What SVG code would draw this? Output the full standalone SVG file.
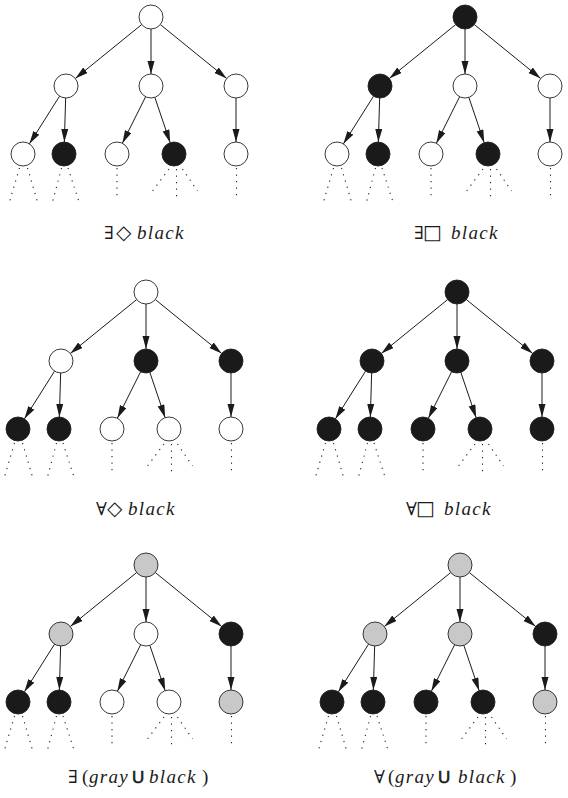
<svg xmlns="http://www.w3.org/2000/svg" width="568" height="798" viewBox="0 0 568 798">
<defs>
<style>
circle{stroke:#222;stroke-width:0.9;}
.w{fill:#fff;}
.k{fill:#1a1a1a;}
.g{fill:#c8c8c8;}
.e{fill:none;stroke:#1a1a1a;stroke-width:1;marker-end:url(#arr);}
.d{fill:none;stroke:#222;stroke-width:1.1;stroke-dasharray:1.2 5.3;}
.lab{font-family:"Liberation Serif","DejaVu Serif",serif;font-size:19px;fill:#1a1a1a;}
.q{font-family:"DejaVu Serif","DejaVu Sans",serif;font-size:18px;}
.dm{font-family:"DejaVu Sans",sans-serif;font-size:20px;}
.bx{font-family:"DejaVu Sans",sans-serif;font-size:20px;}
.it{font-style:italic;letter-spacing:1.3px;}
.u{font-family:"Liberation Sans",Arial,sans-serif;font-size:17px;stroke:#1a1a1a;stroke-width:0.6;}
</style>
<marker id="arr" markerUnits="userSpaceOnUse" markerWidth="14" markerHeight="8" refX="13" refY="3.5" orient="auto">
<path d="M0,0 L13,3.5 L0,7 z" fill="#1a1a1a"/>
</marker>
</defs>
<rect width="568" height="798" fill="#fff"/>

<!-- Panel 1 -->
<g id="panel1" transform="translate(0,0)">
<g id="p1-connectors">
<path class="e" d="M141.68,24.56 L75.32,78.44"/>
<path class="e" d="M151,29 L151,74"/>
<path class="e" d="M160.32,24.56 L226.68,78.44"/>
<path class="e" d="M59.59,96.14 L29.41,143.86"/>
<path class="e" d="M65.65,98 L64.35,142"/>
<path class="e" d="M145.63,96.73 L122.37,143.27"/>
<path class="e" d="M154.85,97.37 L170.15,142.63"/>
<path class="e" d="M236,98 L236,142"/>
<path class="d" d="M19.5,168 L9.5,202 M27.5,168 L37.5,202 M61.5,168 L52.5,202 M68,168 L79,202 M117,168 L117,197 M169,169 L152.5,191 M176.5,169 L176.5,197 M182.5,169 L197.5,191 M236.5,168 L236.5,197"/>
</g>
<g id="p1-root"><circle class="w" cx="151" cy="17" r="12"/></g>
<g id="p1-a"><circle class="w" cx="66" cy="86" r="12"/></g>
<g id="p1-b"><circle class="w" cx="151" cy="86" r="12"/></g>
<g id="p1-c"><circle class="w" cx="236" cy="86" r="12"/></g>
<g id="p1-l1"><circle class="w" cx="23" cy="154" r="12"/></g>
<g id="p1-l2"><circle class="k" cx="64" cy="154" r="12"/></g>
<g id="p1-l3"><circle class="w" cx="117" cy="154" r="12"/></g>
<g id="p1-l4"><circle class="k" cx="174" cy="154" r="12"/></g>
<g id="p1-l5"><circle class="w" cx="236" cy="154" r="12"/></g>
</g>

<!-- Panel 2 -->
<g id="panel2" transform="translate(314,0)">
<g id="p2-connectors">
<path class="e" d="M141.68,24.56 L75.32,78.44"/>
<path class="e" d="M151,29 L151,74"/>
<path class="e" d="M160.32,24.56 L226.68,78.44"/>
<path class="e" d="M59.59,96.14 L29.41,143.86"/>
<path class="e" d="M65.65,98 L64.35,142"/>
<path class="e" d="M145.63,96.73 L122.37,143.27"/>
<path class="e" d="M154.85,97.37 L170.15,142.63"/>
<path class="e" d="M236,98 L236,142"/>
<path class="d" d="M19.5,168 L9.5,202 M27.5,168 L37.5,202 M61.5,168 L52.5,202 M68,168 L79,202 M117,168 L117,197 M169,169 L152.5,191 M176.5,169 L176.5,197 M182.5,169 L197.5,191 M236.5,168 L236.5,197"/>
</g>
<g id="p2-root"><circle class="k" cx="151" cy="17" r="12"/></g>
<g id="p2-a"><circle class="k" cx="66" cy="86" r="12"/></g>
<g id="p2-b"><circle class="w" cx="151" cy="86" r="12"/></g>
<g id="p2-c"><circle class="w" cx="236" cy="86" r="12"/></g>
<g id="p2-l1"><circle class="w" cx="23" cy="154" r="12"/></g>
<g id="p2-l2"><circle class="k" cx="64" cy="154" r="12"/></g>
<g id="p2-l3"><circle class="w" cx="117" cy="154" r="12"/></g>
<g id="p2-l4"><circle class="k" cx="174" cy="154" r="12"/></g>
<g id="p2-l5"><circle class="w" cx="236" cy="154" r="12"/></g>
</g>

<!-- Panel 3 -->
<g id="panel3" transform="translate(-5,275)">
<g id="p3-connectors">
<path class="e" d="M141.68,24.56 L75.32,78.44"/>
<path class="e" d="M151,29 L151,74"/>
<path class="e" d="M160.32,24.56 L226.68,78.44"/>
<path class="e" d="M59.59,96.14 L29.41,143.86"/>
<path class="e" d="M65.65,98 L64.35,142"/>
<path class="e" d="M145.63,96.73 L122.37,143.27"/>
<path class="e" d="M154.85,97.37 L170.15,142.63"/>
<path class="e" d="M236,98 L236,142"/>
<path class="d" d="M19.5,168 L9.5,202 M27.5,168 L37.5,202 M61.5,168 L52.5,202 M68,168 L79,202 M117,168 L117,197 M169,169 L152.5,191 M176.5,169 L176.5,197 M182.5,169 L197.5,191 M236.5,168 L236.5,197"/>
</g>
<g id="p3-root"><circle class="w" cx="151" cy="17" r="12"/></g>
<g id="p3-a"><circle class="w" cx="66" cy="86" r="12"/></g>
<g id="p3-b"><circle class="k" cx="151" cy="86" r="12"/></g>
<g id="p3-c"><circle class="k" cx="236" cy="86" r="12"/></g>
<g id="p3-l1"><circle class="k" cx="23" cy="154" r="12"/></g>
<g id="p3-l2"><circle class="k" cx="64" cy="154" r="12"/></g>
<g id="p3-l3"><circle class="w" cx="117" cy="154" r="12"/></g>
<g id="p3-l4"><circle class="w" cx="174" cy="154" r="12"/></g>
<g id="p3-l5"><circle class="w" cx="236" cy="154" r="12"/></g>
</g>

<!-- Panel 4 -->
<g id="panel4" transform="translate(306,275)">
<g id="p4-connectors">
<path class="e" d="M141.68,24.56 L75.32,78.44"/>
<path class="e" d="M151,29 L151,74"/>
<path class="e" d="M160.32,24.56 L226.68,78.44"/>
<path class="e" d="M59.59,96.14 L29.41,143.86"/>
<path class="e" d="M65.65,98 L64.35,142"/>
<path class="e" d="M145.63,96.73 L122.37,143.27"/>
<path class="e" d="M154.85,97.37 L170.15,142.63"/>
<path class="e" d="M236,98 L236,142"/>
<path class="d" d="M19.5,168 L9.5,202 M27.5,168 L37.5,202 M61.5,168 L52.5,202 M68,168 L79,202 M117,168 L117,197 M169,169 L152.5,191 M176.5,169 L176.5,197 M182.5,169 L197.5,191 M236.5,168 L236.5,197"/>
</g>
<g id="p4-root"><circle class="k" cx="151" cy="17" r="12"/></g>
<g id="p4-a"><circle class="k" cx="66" cy="86" r="12"/></g>
<g id="p4-b"><circle class="k" cx="151" cy="86" r="12"/></g>
<g id="p4-c"><circle class="k" cx="236" cy="86" r="12"/></g>
<g id="p4-l1"><circle class="k" cx="23" cy="154" r="12"/></g>
<g id="p4-l2"><circle class="k" cx="64" cy="154" r="12"/></g>
<g id="p4-l3"><circle class="k" cx="117" cy="154" r="12"/></g>
<g id="p4-l4"><circle class="k" cx="174" cy="154" r="12"/></g>
<g id="p4-l5"><circle class="k" cx="236" cy="154" r="12"/></g>
</g>

<!-- Panel 5 -->
<g id="panel5" transform="translate(-5,548)">
<g id="p5-connectors">
<path class="e" d="M141.68,24.56 L75.32,78.44"/>
<path class="e" d="M151,29 L151,74"/>
<path class="e" d="M160.32,24.56 L226.68,78.44"/>
<path class="e" d="M59.59,96.14 L29.41,143.86"/>
<path class="e" d="M65.65,98 L64.35,142"/>
<path class="e" d="M145.63,96.73 L122.37,143.27"/>
<path class="e" d="M154.85,97.37 L170.15,142.63"/>
<path class="e" d="M236,98 L236,142"/>
<path class="d" d="M19.5,168 L9.5,202 M27.5,168 L37.5,202 M61.5,168 L52.5,202 M68,168 L79,202 M117,168 L117,197 M169,169 L152.5,191 M176.5,169 L176.5,197 M182.5,169 L197.5,191 M236.5,168 L236.5,197"/>
</g>
<g id="p5-root"><circle class="g" cx="151" cy="17" r="12"/></g>
<g id="p5-a"><circle class="g" cx="66" cy="86" r="12"/></g>
<g id="p5-b"><circle class="w" cx="151" cy="86" r="12"/></g>
<g id="p5-c"><circle class="k" cx="236" cy="86" r="12"/></g>
<g id="p5-l1"><circle class="k" cx="23" cy="154" r="12"/></g>
<g id="p5-l2"><circle class="k" cx="64" cy="154" r="12"/></g>
<g id="p5-l3"><circle class="w" cx="117" cy="154" r="12"/></g>
<g id="p5-l4"><circle class="w" cx="174" cy="154" r="12"/></g>
<g id="p5-l5"><circle class="g" cx="236" cy="154" r="12"/></g>
</g>

<!-- Panel 6 -->
<g id="panel6" transform="translate(309,548)">
<g id="p6-connectors">
<path class="e" d="M141.68,24.56 L75.32,78.44"/>
<path class="e" d="M151,29 L151,74"/>
<path class="e" d="M160.32,24.56 L226.68,78.44"/>
<path class="e" d="M59.59,96.14 L29.41,143.86"/>
<path class="e" d="M65.65,98 L64.35,142"/>
<path class="e" d="M145.63,96.73 L122.37,143.27"/>
<path class="e" d="M154.85,97.37 L170.15,142.63"/>
<path class="e" d="M236,98 L236,142"/>
<path class="d" d="M19.5,168 L9.5,202 M27.5,168 L37.5,202 M61.5,168 L52.5,202 M68,168 L79,202 M117,168 L117,197 M169,169 L152.5,191 M176.5,169 L176.5,197 M182.5,169 L197.5,191 M236.5,168 L236.5,197"/>
</g>
<g id="p6-root"><circle class="g" cx="151" cy="17" r="12"/></g>
<g id="p6-a"><circle class="g" cx="66" cy="86" r="12"/></g>
<g id="p6-b"><circle class="g" cx="151" cy="86" r="12"/></g>
<g id="p6-c"><circle class="k" cx="236" cy="86" r="12"/></g>
<g id="p6-l1"><circle class="k" cx="23" cy="154" r="12"/></g>
<g id="p6-l2"><circle class="k" cx="64" cy="154" r="12"/></g>
<g id="p6-l3"><circle class="k" cx="117" cy="154" r="12"/></g>
<g id="p6-l4"><circle class="k" cx="174" cy="154" r="12"/></g>
<g id="p6-l5"><circle class="g" cx="236" cy="154" r="12"/></g>
</g>

<!-- Labels -->
<g id="labels">
<text id="label1" class="lab" y="239"><tspan class="q" x="104">∃</tspan><tspan class="dm" x="116">◇</tspan><tspan class="it" x="137">black</tspan></text>
<text id="label2" class="lab" y="239"><tspan class="q" x="414">∃</tspan><tspan class="bx" x="423">□</tspan><tspan class="it" x="451">black</tspan></text>
<text id="label3" class="lab" y="515"><tspan class="q" x="96">∀</tspan><tspan class="dm" x="107">◇</tspan><tspan class="it" x="128">black</tspan></text>
<text id="label4" class="lab" y="515"><tspan class="q" x="406">∀</tspan><tspan class="bx" x="416">□</tspan><tspan class="it" x="444">black</tspan></text>
<text id="label5" class="lab" y="783"><tspan class="q" x="68">∃</tspan><tspan x="82">(</tspan><tspan class="it" x="89">gray</tspan><tspan class="u" x="132">U</tspan><tspan class="it" x="149">black</tspan><tspan x="202">)</tspan></text>
<text id="label6" class="lab" y="783"><tspan class="q" x="374">∀</tspan><tspan x="388">(</tspan><tspan class="it" x="395">gray</tspan><tspan class="u" x="438">U</tspan><tspan class="it" x="458">black</tspan><tspan x="510">)</tspan></text>
</g>
</svg>
